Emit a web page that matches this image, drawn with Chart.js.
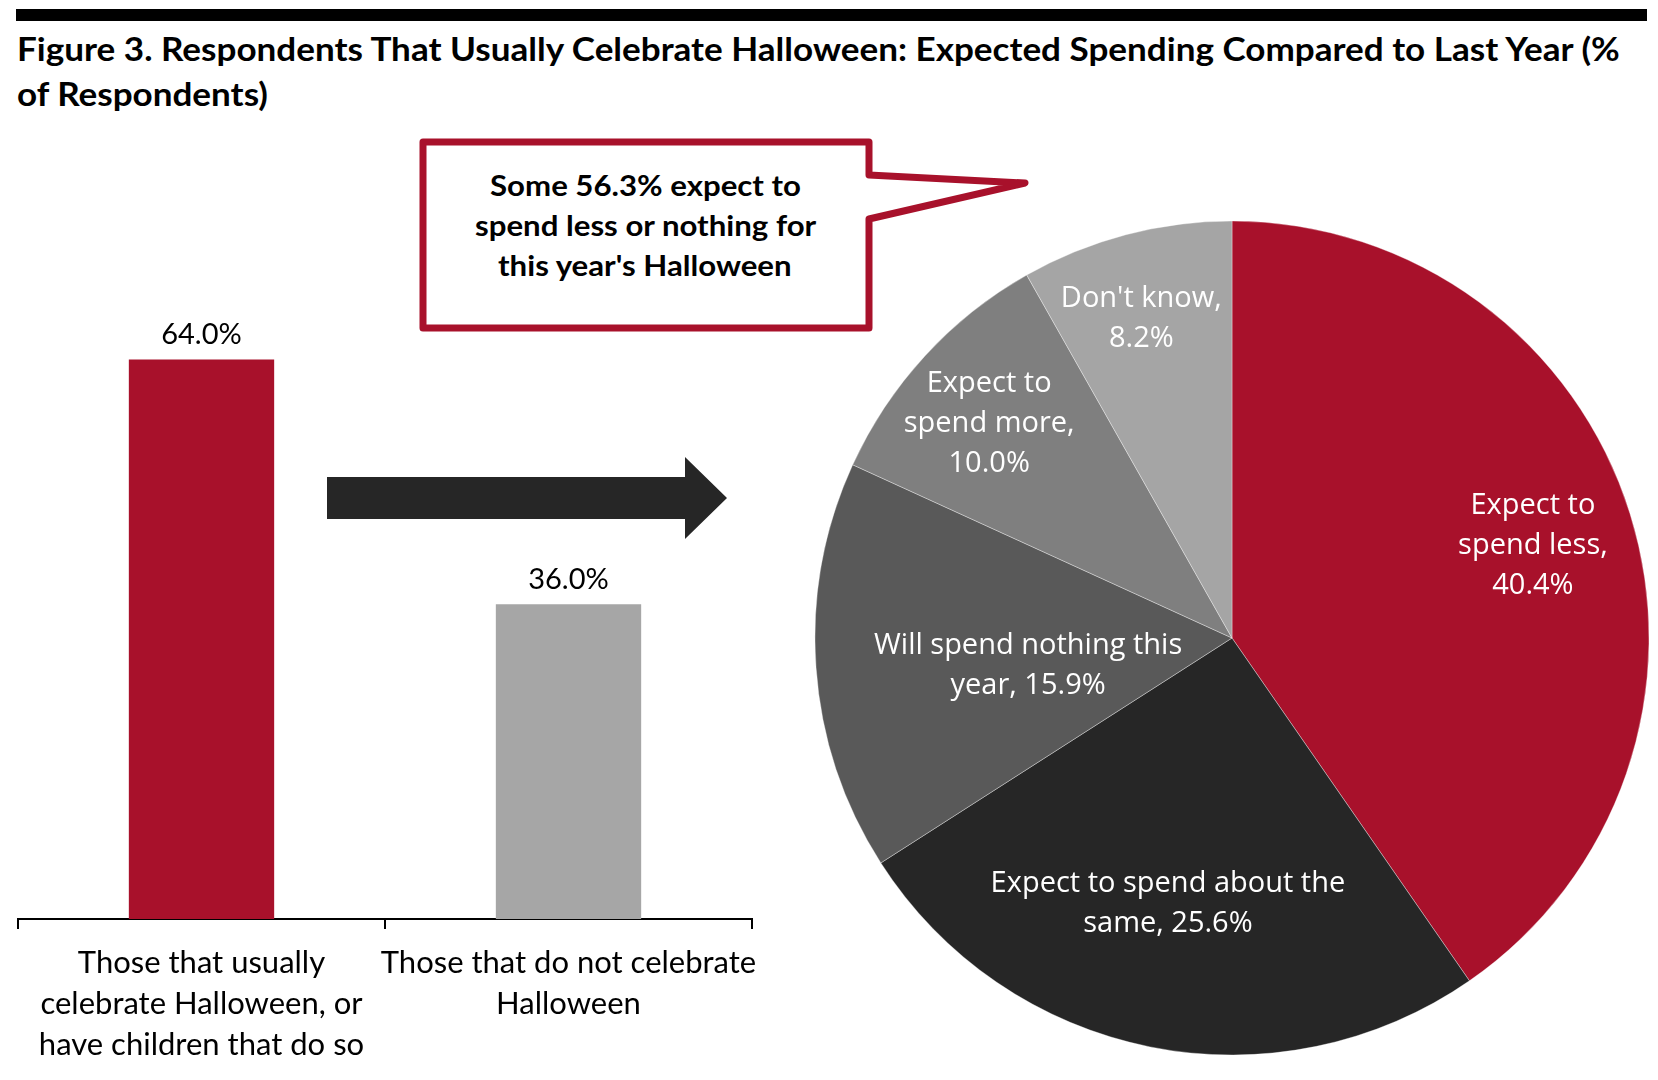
<!DOCTYPE html>
<html>
<head>
<meta charset="utf-8">
<script src="https://cdn.jsdelivr.net/npm/chart.js@4.4.1/dist/chart.umd.min.js"></script>
<style>
html,body{margin:0;padding:0;background:#fff;width:1658px;height:1080px;overflow:hidden;}
body{position:relative;}
#topbar{position:absolute;left:16px;top:9px;width:1631px;height:12px;background:#000;}
.tl{position:absolute;left:17px;font-family:Lato,"Open Sans",sans-serif;font-weight:700;font-size:32px;line-height:38px;white-space:nowrap;color:#000;transform-origin:0 0;}
.cl{position:absolute;font-family:Lato,"Open Sans",sans-serif;font-weight:700;font-size:28px;line-height:30px;white-space:nowrap;color:#000;transform-origin:0 0;}
#barWrap{position:absolute;left:0;top:0;width:790px;height:1080px;}
#pieWrap{position:absolute;left:812px;top:218px;width:840px;height:840px;}
svg{position:absolute;left:0;top:0;}
</style>
</head>
<body>
<div id="topbar"></div>
<div class="tl" id="t1" style="top:30px">Figure 3. Respondents That Usually Celebrate Halloween: Expected Spending Compared to Last Year (%</div>
<div class="tl" id="t2" style="top:75px">of Respondents)</div>

<svg width="1658" height="1080">
  <path d="M423,142 H869 V175 L1025,183 L869,219 V328 H423 Z" fill="#fff" stroke="#A8112B" stroke-width="7" stroke-linejoin="round"/>
  <polygon points="327,477 685,477 685,457 727,498 685,539 685,519 327,519" fill="#262626"/>
</svg>
<div class="cl" id="c1" style="top:170px">Some 56.3% expect to</div>
<div class="cl" id="c2" style="top:210px">spend less or nothing for</div>
<div class="cl" id="c3" style="top:250px">this year's Halloween</div>

<div id="barWrap"><canvas id="bar" width="790" height="1080"></canvas></div>
<div id="pieWrap"><canvas id="pie" width="840" height="840"></canvas></div>

<script>
// ---------- data ----------
const barCategories = [
  ["Those that usually", "celebrate Halloween, or", "have children that do so"],
  ["Those that do not celebrate", "Halloween"]
];
const barValues = [64.0, 36.0];

const pieCategoryLines = [
  ["Expect to", "spend less"],
  ["Expect to spend about the", "same"],
  ["Will spend nothing this", "year"],
  ["Expect to", "spend more"],
  ["Don't know"]
];
const pieValues = [40.4, 25.6, 15.9, 10.0, 8.2];
const pieValueOnNewLine = [true, false, false, true, true];

// ---------- styles ----------
const RED = '#A8112B';
const barColors = [RED, '#A6A6A6'];
const pieColors = [RED, '#262626', '#595959', '#7F7F7F', '#A5A5A5'];
const pieLabelRadius = [0.756, 0.652, 0.493, 0.779, 0.799];
const pieLabelAngleShift = [0, 2.3, -3.35, -0.9, -1.05]; // degrees

function pct(v){ return v.toFixed(1) + '%'; }

// ---------- bar chart ----------
const barValueLabels = {
  id: 'barValueLabels',
  afterDatasetsDraw(chart){
    const ctx = chart.ctx;
    const meta = chart.getDatasetMeta(0);
    ctx.save();
    ctx.font = '29px Lato, "Open Sans", sans-serif';
    ctx.fillStyle = '#000';
    ctx.textAlign = 'center';
    ctx.textBaseline = 'alphabetic';
    meta.data.forEach((bar, i) => {
      ctx.fillText(pct(barValues[i]), bar.x, bar.y - 15);
    });
    ctx.restore();
  }
};

new Chart(document.getElementById('bar'), {
  type: 'bar',
  data: {
    labels: barCategories,
    datasets: [{
      data: barValues,
      backgroundColor: barColors,
      borderWidth: 0,
      categoryPercentage: 1.0,
      barPercentage: 0.396
    }]
  },
  options: {
    responsive: false,
    animation: false,
    devicePixelRatio: 1,
    layout: { padding: { top: 307, left: 18, right: 38, bottom: 0 } },
    plugins: { legend: { display: false }, tooltip: { enabled: false } },
    scales: {
      y: { display: false, min: 0, max: 70 },
      x: {
        afterFit(scale){ scale.height = 161; },
        border: { display: true, color: '#000', width: 2 },
        grid: { display: true, offset: true, drawOnChartArea: false, drawTicks: true, tickLength: 10, color: '#000', lineWidth: 2 },
        ticks: {
          color: '#000',
          padding: 14,
          maxRotation: 0,
          autoSkip: false,
          font: { family: 'Lato, "Open Sans", sans-serif', size: 31, lineHeight: 1.31 }
        }
      }
    }
  },
  plugins: [barValueLabels]
});

// ---------- pie chart ----------
const pieLabelPlugin = {
  id: 'pieLabelPlugin',
  afterDatasetsDraw(chart){
    const ctx = chart.ctx;
    const meta = chart.getDatasetMeta(0);
    ctx.save();
    ctx.font = '29px "Open Sans", sans-serif';
    ctx.fillStyle = '#fff';
    ctx.textAlign = 'center';
    ctx.textBaseline = 'alphabetic';
    meta.data.forEach((arc, i) => {
      const p = arc.getProps(['x','y','startAngle','endAngle','outerRadius'], true);
      const mid = (p.startAngle + p.endAngle) / 2 + pieLabelAngleShift[i] * Math.PI / 180;
      const r = p.outerRadius * pieLabelRadius[i];
      const cx = p.x + Math.cos(mid) * r;
      const cy = p.y + Math.sin(mid) * r;
      const lines = pieCategoryLines[i].slice();
      const last = lines.length - 1;
      if (pieValueOnNewLine[i]) { lines[last] = lines[last] + ','; lines.push(pct(pieValues[i])); }
      else { lines[last] = lines[last] + ', ' + pct(pieValues[i]); }
      const lh = 40;
      lines.forEach((ln, k) => {
        const y = cy + (k - (lines.length - 1) / 2) * lh + 10;
        ctx.fillText(ln, cx, y);
      });
    });
    ctx.restore();
  }
};

new Chart(document.getElementById('pie'), {
  type: 'pie',
  data: {
    labels: pieCategoryLines.map(l => l.join(' ')),
    datasets: [{
      data: pieValues,
      backgroundColor: pieColors,
      borderColor: 'rgba(255,255,255,0.35)',
      borderWidth: 1,
      hoverOffset: 0
    }]
  },
  options: {
    responsive: false,
    animation: false,
    devicePixelRatio: 1,
    radius: 417,
    layout: { padding: 0 },
    plugins: { legend: { display: false }, tooltip: { enabled: false } }
  },
  plugins: [pieLabelPlugin]
});

// ---------- fit title / callout text widths ----------
(function(){
  const t1 = document.getElementById('t1'), t2 = document.getElementById('t2');
  const s = 1603 / t1.offsetWidth;
  t1.style.transform = 'scaleX(' + s + ')';
  t2.style.transform = 'scaleX(' + s + ')';
  const c = ['c1','c2','c3'].map(id => document.getElementById(id));
  const cs = 341 / c[1].offsetWidth;
  c.forEach(el => {
    const w = el.offsetWidth * cs;
    el.style.left = (645 - w / 2) + 'px';
    el.style.transform = 'scaleX(' + cs + ')';
  });
})();
</script>
</body>
</html>
